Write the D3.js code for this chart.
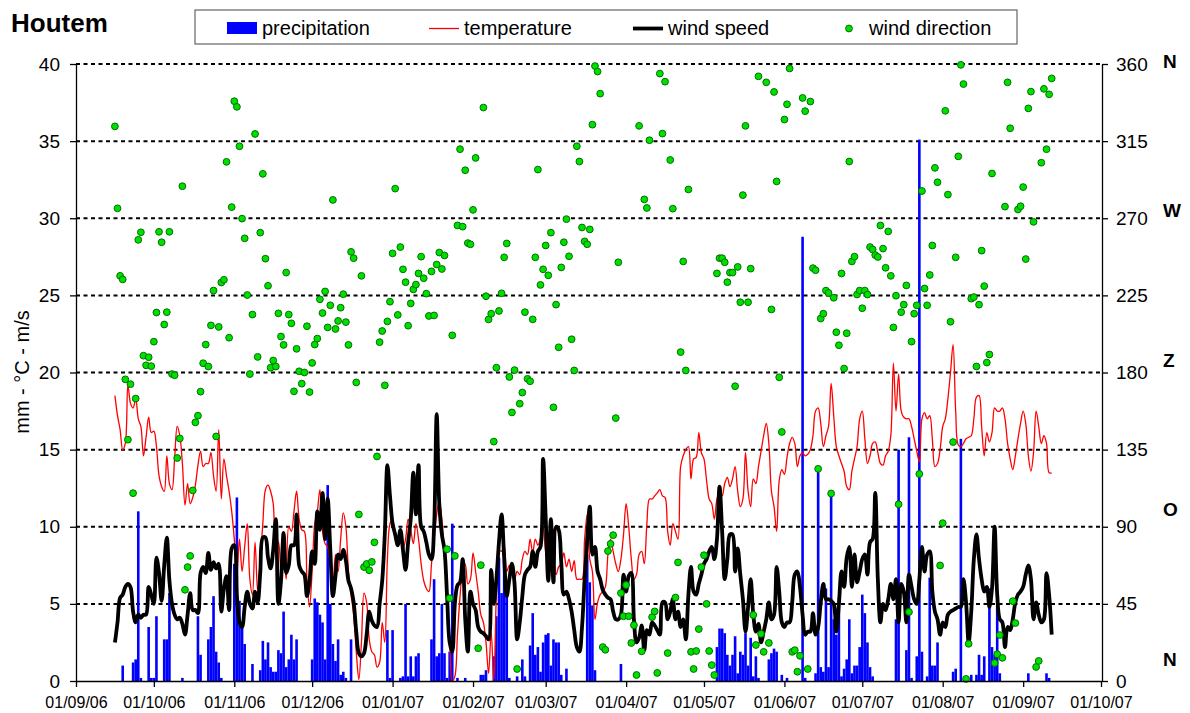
<!DOCTYPE html>
<html>
<head>
<meta charset="utf-8">
<script src="https://cdn.jsdelivr.net/npm/d3@7"></script>
<style>
  body { margin: 0; background: #fff; }
  svg text { font-family: "Liberation Sans", Arial, sans-serif; }
</style>
</head>
<body>
<div class="chart"></div>
<script>
// daily values, first day 16/09/06
var firstDay = "16/09/06";

// mm per day
var precipitation = [
  0,0,0,1.0,0,0,0,1.2,1.4,11.0,
  0.2,0,0,3.5,0.2,0.2,4.2,0,0,2.7,
  2.7,5.7,0,0,0,0,0.2,0,0,0,
  0,0,4.2,1.7,0,0,2.7,3.5,5.5,1.9,
  1.2,0.2,0,0,0,0,7.6,11.9,5.2,3.6,
  2.4,0,0,1.1,0,0,0.7,2.6,1.4,2.5,
  0.9,0.6,0.6,2.0,1.8,4.5,0.9,1.4,3.0,1.4,
  2.7,0,0,0,0,0,1.4,5.35,5.1,4.3,
  3.8,1.4,12.7,5.0,2.4,1.3,2.7,0.4,0.6,0.2,
  0,2.7,0,0,0,0,0,0,0,0,
  0,0,0,0,0,3.3,0.2,3.3,0,0,
  0.2,0.3,5.0,0.3,1.6,0.3,1.6,1.8,0,0,
  0,0,2.7,6.6,1.6,1.8,5.0,1.8,0.2,1.9,
  10.2,0,0.2,0,0,0.2,0,0,0,0,
  0,0.4,0.4,0.7,0,0,1.6,4.2,8.0,5.7,
  7.8,6.2,0.2,0,0,0.3,0,1.4,0.3,0,
  2.3,4.4,1.7,2.2,0.6,2.5,3.0,3.1,1.0,2.7,
  2.5,2.5,0.4,0,0.8,0,0,0,0,0,
  0,0,8.2,6.4,4.9,0.7,0,0,0,0,
  0,0,0,0,0,1.1,0,0,0,0,
  0,0,0,0,0,0,0,0,0,0,
  0,0,0,0,0,0,0,0,0,0,
  0,0,0,0,0,0,0,0,0,0,
  0,0,2.2,3.4,3.4,3.1,1.7,1.0,1.7,2.9,
  0.5,1.9,1.7,3.1,1.0,2.8,0.3,1.6,0.2,0,
  0,0,1.4,1.8,2.1,1.9,0,0.4,0,0.2,
  0,0,0,0,0,28.8,0.2,0,0,0,
  0.5,13.6,0.9,0.6,6.0,0.9,12.0,4.0,3.0,5.4,
  0.3,0.8,1.4,4.0,0.5,1.0,1.0,2.2,5.6,4.4,
  2.5,0.9,0.3,0,0,0,0,0,0,0,
  0,4.0,15.0,0,0,2.0,15.8,0.2,0,1.6,
  35.1,1.9,0,0.3,6.7,1.0,1.0,2.5,0,0,
  0,0,0,0.6,0.8,0,15.7,0,0,0,
  0.4,0,0.4,1.7,0.4,1.6,0,6.0,2.2,1.7,
  4.9,0.5,0,0,0,0,0,0,0,0,
  0,0,0.5,0,0,0,0,0,0,0.5,
  0.2,0
];

// °C
var temperature = [
  18.5,17.2,16.3,15.0,15.4,19.2,18.0,17.7,18.3,17.0,
  16.5,14.6,15.8,17.1,16.1,16.2,15.2,13.3,12.6,12.3,
  14.6,12.8,12.4,14.4,16.5,15.9,14.1,11.4,12.8,11.5,
  11.9,12.7,14.0,14.9,13.9,14.1,14.1,14.8,13.3,12.3,
  16.3,11.8,14.4,13.3,12.3,11.0,9.2,6.9,9.2,7.1,
  8.7,10.2,6.6,5.6,9.0,5.8,7.9,10.2,12.4,12.7,
  12.3,11.5,9.2,9.0,7.1,8.4,6.6,10.0,9.7,11.0,
  12.3,10.5,9.8,9.7,6.6,4.8,7.1,10.2,11.0,12.4,
  9.7,8.9,8.7,7.6,6.3,8.2,7.1,9.2,10.9,10.0,
  7.1,5.6,4.3,1.9,0.1,2.5,5.7,5.1,2.7,1.9,
  1.7,0.9,1.2,3.8,2.5,7.9,10.2,10.5,9.2,8.8,
  9.7,8.5,9.2,10.5,9.8,8.9,10.2,9.2,7.6,6.5,
  6.0,5.8,7.6,9.2,10.8,11.7,10.5,8.0,5.5,2.5,
  0.0,0.3,3.0,5.5,7.2,7.6,6.3,6.6,8.3,7.1,
  5.8,4.3,3.8,2.5,0.5,3.2,0.0,5.6,8.5,8.4,
  8.8,7.1,7.5,7.0,6.6,7.1,6.9,7.9,8.4,8.2,
  9.2,8.3,9.2,8.8,9.3,10.0,8.4,7.9,8.2,7.9,
  6.9,7.4,7.6,8.3,7.4,7.9,7.1,7.8,6.6,6.6,
  6.6,9.2,10.8,7.9,7.1,4.0,5.1,5.6,5.8,6.1,
  8.2,9.2,8.4,7.6,7.1,7.9,9.5,11.5,10.0,7.9,
  6.6,6.9,8.2,8.4,7.6,10.2,11.8,11.8,12.0,12.2,
  12.4,12.0,11.9,9.7,8.8,10.2,9.7,9.2,13.9,14.6,
  15.0,15.2,13.1,14.4,14.5,16.1,14.8,14.4,13.0,11.8,
  11.5,10.5,11.8,12.3,12.0,12.8,13.2,12.6,13.1,13.9,
  12.3,11.3,11.8,14.8,12.3,11.3,13.1,12.8,13.9,14.9,
  15.9,16.7,15.4,12.3,11.3,9.7,13.0,13.7,13.4,14.5,
  15.4,15.8,15.4,13.9,14.6,14.8,14.6,14.7,15.0,15.9,
  17.5,17.7,16.7,15.2,15.9,16.5,19.3,17.2,15.2,14.6,
  14.1,13.6,12.6,12.4,13.6,14.4,15.2,17.0,17.5,15.7,
  14.1,14.6,15.4,15.5,14.8,14.1,14.0,14.6,14.9,15.9,
  20.6,17.5,19.9,17.5,17.1,17.0,17.0,16.5,15.7,14.9,
  14.2,17.0,17.4,17.0,17.2,15.7,13.9,14.1,15.0,16.5,
  17.0,18.3,20.0,21.8,17.5,15.3,15.2,15.4,15.7,15.8,
  15.9,17.0,18.4,18.5,16.5,14.6,16.1,15.5,16.1,17.7,
  17.5,17.5,17.7,17.0,15.4,14.4,13.7,14.6,15.7,16.7,
  17.5,16.7,14.6,13.6,14.8,17.5,16.5,15.4,15.9,15.4,
  13.5,13.5
];

// m/s
var windSpeed = [
  2.5,3.8,5.4,5.6,6.1,6.3,6.1,4.5,3.8,4.3,
  4.1,4.3,4.3,6.1,5.6,5.0,8.0,7.0,5.2,7.5,
  9.3,6.5,5.0,4.3,4.0,4.1,3.7,3.0,4.3,5.7,
  4.6,4.6,4.4,7.0,7.4,7.0,8.3,7.2,7.7,7.3,
  7.6,4.5,6.0,6.8,4.6,8.6,8.8,5.5,3.8,3.5,
  4.8,5.8,5.0,4.7,5.8,5.1,7.0,9.3,9.3,8.0,
  7.3,8.5,10.5,5.0,6.5,9.6,7.0,7.5,8.8,8.8,
  10.8,7.5,7.1,6.9,5.5,6.5,8.4,7.6,11.0,9.8,
  12.2,9.2,11.8,8.5,5.5,6.8,8.2,7.9,8.5,7.8,
  6.5,6.0,5.1,3.2,1.8,1.6,1.8,3.0,4.5,3.9,
  3.6,3.5,5.0,6.5,9.5,14.0,12.0,10.2,9.5,8.8,
  9.8,8.5,7.2,9.0,10.5,13.5,10.8,14.0,10.0,9.7,
  9.0,8.2,7.9,10.0,17.3,11.5,9.5,8.5,5.5,2.5,
  1.9,5.0,6.2,6.4,7.9,4.0,1.9,5.8,5.0,4.6,
  3.5,3.2,3.1,2.9,2.7,7.2,5.0,6.6,9.0,10.8,
  8.0,5.5,6.6,7.6,6.3,2.7,3.8,5.5,6.9,7.2,
  7.4,8.4,7.4,8.4,8.7,14.4,10.6,6.5,10.5,6.4,
  10.0,9.8,7.7,5.6,5.8,5.3,4.5,3.3,2.2,1.9,
  3.5,6.6,9.2,11.3,8.2,8.7,7.1,6.6,5.9,5.6,
  5.4,5.3,4.5,4.0,4.0,4.3,6.9,5.8,6.8,7.0,
  4.0,2.5,2.8,3.6,2.0,3.3,3.0,3.8,3.6,3.3,
  3.0,5.1,5.1,4.0,4.5,5.3,4.0,4.5,3.5,4.0,
  2.7,5.6,7.4,5.8,5.6,6.3,6.9,7.6,7.9,8.4,
  8.7,7.9,9.2,12.6,9.7,6.6,7.9,9.5,9.5,7.1,
  8.6,6.9,5.3,3.2,4.8,6.6,4.3,3.2,3.7,2.5,
  3.2,4.0,5.1,4.0,4.3,7.4,5.8,3.8,3.5,3.8,
  3.8,5.1,6.9,7.1,6.1,4.3,3.0,3.2,3.2,4.4,
  3.0,3.5,5.1,6.3,5.3,5.3,5.2,5.0,3.2,5.0,
  7.1,6.1,8.0,8.7,6.1,8.2,6.4,7.1,7.9,8.2,
  6.9,9.0,9.2,12.2,6.6,3.8,5.0,4.6,5.3,6.3,
  5.3,6.6,3.8,6.3,5.8,3.8,6.9,6.1,5.3,5.0,
  6.6,8.7,7.1,8.2,8.4,5.8,4.5,4.0,3.0,3.8,
  3.5,4.3,4.5,4.6,4.7,4.8,4.8,6.6,5.1,2.5,
  4.5,7.9,9.5,7.9,6.6,5.8,6.1,4.8,6.0,10.0,
  5.6,4.0,3.8,2.2,3.5,3.3,4.0,5.1,5.6,5.8,
  6.1,6.9,7.5,6.6,4.0,5.1,4.3,3.8,4.0,7.0,
  5.6,3.0
];

// degrees
var windDirection = [
  323.6,275.8,236.4,234.3,176,140.8,173.2,109.6,164.8,257.4,
  261.8,189.8,184.2,188.9,183.7,198,215,262.1,256,208,
  215.2,262.1,179.1,178.4,130.1,141.5,288.7,53.2,66.5,73,
  111.2,150.9,154.8,168.8,185.4,196.3,183.5,207.5,227.8,142.7,
  206.6,232.5,234.1,302.9,200.3,276.5,338.3,335,312,269.8,
  258.3,225.2,179.1,213.8,319.2,189.1,261.6,295.9,246.4,230.6,
  182.8,187,183.5,214.5,201,196.1,238.3,213.8,208.7,169,
  193.8,180.7,173.5,180,207,168.6,185.6,196.3,199.8,222.7,
  214.7,227.3,206.3,219.2,280.7,205.4,210.1,217.8,225.7,209.4,
  196.1,250.4,246.7,174.2,97.2,236.4,66.5,68.3,64.6,69.5,
  80.9,131,197.7,204.2,172.5,209.8,221.3,249.5,287.3,213.6,
  253.2,240.2,232.7,207.3,220.3,228.5,231.3,237.8,247.6,235,
  226,213,239,213.3,243,250,240.4,248.3,76.9,48.3,
  201.7,73,265.8,310.3,265.1,298,255.5,254.8,274.9,305.2,
  19.1,67.6,334.6,224.5,211,214.3,139.7,182.8,215.9,226.2,
  247.2,255.3,177.4,156.7,181.4,7,161.8,168.3,215.2,176.3,
  174.9,211,247.2,298.4,231.1,240.2,254.1,236.7,261.6,159.7,
  219.6,194.7,241.3,256,269.5,247.8,199.4,181.2,312,303.1,
  264.6,256.5,254.8,263.5,324.6,358.8,355.6,342.7,19.8,18.2,
  75.8,80,85.1,153.4,244.3,51.3,37.8,56,37.8,22.2,
  32.6,3.5,323.9,17.3,281,276,315.5,37.3,40.6,4.7,
  354.4,319.4,349.7,16.3,304,275.6,48.7,69.2,191.9,244.8,
  181.2,286.8,17,7,17.5,30.3,66.5,73.4,45,17.5,
  9.3,3.5,237.8,246.7,246.7,244.3,232.7,238.3,238.3,172,
  241.6,221,283.5,323.9,221,240.6,38.5,21,352.8,27.5,
  17,349.3,22.2,216.8,343.7,291.5,177.2,145.3,327.6,336.5,
  357.4,17,18,5.4,14.7,340.2,332.5,7,338.1,240.9,
  239.7,123.8,211.5,214.3,227.8,226.4,109.4,223.6,203.5,195.9,
  237.8,182.3,202.9,303.1,244.8,247.6,225.5,227.8,217.5,227.8,
  225.5,253.2,251.8,248.5,247.4,265.8,252.3,241.1,262.3,236.4,
  206.3,224.8,103.1,215.2,219.6,230.8,40.3,198,214.3,219.2,
  120.8,285.9,229,219.2,236.9,254.1,299.4,291,67.4,92.1,
  332.7,283.8,209.6,139.4,247.2,306.1,359.5,348.3,1.2,21.7,
  223.1,224,183.5,219.6,251.1,230.4,185.8,190.5,296.1,10.5,
  15.6,26.8,13.5,276.8,349.3,322.5,46.6,33.8,275.1,277,
  288.2,246.2,334.1,343.9,267.9,8.2,11.7,302.4,345.5,310.3,
  342.3,351.6
];

var monthTicks = ["01/09/06","01/10/06","01/11/06","01/12/06","01/01/07","01/02/07","01/03/07",
                  "01/04/07","01/05/07","01/06/07","01/07/07","01/08/07","01/09/07","01/10/07"];
var leftTicks = [0, 5, 10, 15, 20, 25, 30, 35, 40];
var rightTicks = [0, 45, 90, 135, 180, 225, 270, 315, 360];
var compassLabels = ["N", "O", "Z", "W", "N"];
var compassDegrees = [0, 90, 180, 270, 360];
var seriesNames = ["precipitation", "temperature", "wind speed", "wind direction"];

var margin = {top: 64, right: 88, bottom: 32, left: 76};
var width = 1190 - margin.left - margin.right,
    height = 713 - margin.top - margin.bottom;

var svg = d3.select(".chart").append("svg")
    .attr("width", 1190)
    .attr("height", 713);

svg.append("rect").attr("width", 1190).attr("height", 713).attr("fill", "#fff");

var g = svg.append("g")
    .attr("transform", "translate(" + margin.left + "," + margin.top + ")");

var parseDate = d3.timeParse("%d/%m/%y");
var day0 = parseDate(firstDay);
var dates = windSpeed.map((v, i) => d3.timeDay.offset(day0, i));
var tickDates = monthTicks.map(parseDate);

const xScale = d3.scaleTime()
    .domain([tickDates[0], tickDates[tickDates.length - 1]])
    .range([0, width - 1]);

const yScale = d3.scaleLinear().domain([0, 40]).range([height, 0]);
const dirScale = d3.scaleLinear().domain([0, 360]).range([height, 0]);
// compass letters sit a little above their degree lines
const compassScale = d3.scaleLinear().domain([0, 360]).range([height - 22, -3]);

// dashed gridlines
g.append("g").attr("class", "grid")
  .selectAll("line")
  .data(leftTicks.filter(d => d > 0))
  .join("line")
    .attr("x1", 0).attr("x2", width)
    .attr("y1", d => yScale(d)).attr("y2", d => yScale(d))
    .attr("stroke", "#000")
    .attr("stroke-width", 2)
    .attr("stroke-dasharray", "4,3.5");

// precipitation bars
var barData = dates.map((d, i) => ({date: d, value: precipitation[i]})).filter(d => d.value > 0);
g.append("g").attr("class", "bars")
  .selectAll("rect")
  .data(barData)
  .join("rect")
    .attr("x", d => xScale(d.date) - 1.3)
    .attr("width", 2.6)
    .attr("y", d => yScale(d.value))
    .attr("height", d => height - yScale(d.value))
    .attr("fill", "#0000ff");

var seriesLine = d3.line()
    .x((d, i) => xScale(dates[i]))
    .y(d => yScale(d))
    .curve(d3.curveCatmullRom);

g.append("path")
    .datum(temperature)
    .attr("fill", "none")
    .attr("stroke", "#ff0000")
    .attr("stroke-width", 1.3)
    .attr("d", seriesLine);

g.append("path")
    .datum(windSpeed)
    .attr("fill", "none")
    .attr("stroke", "#000")
    .attr("stroke-width", 3.8)
    .attr("stroke-linejoin", "round")
    .attr("d", seriesLine);

g.append("g").attr("class", "dots")
  .selectAll("circle")
  .data(windDirection)
  .join("circle")
    .attr("cx", (d, i) => xScale(dates[i]))
    .attr("cy", d => dirScale(d))
    .attr("r", 3.4)
    .attr("fill", "#00e000")
    .attr("stroke", "#007000")
    .attr("stroke-width", 1);

// axes
const xAxis = d3.axisBottom(xScale)
    .tickValues(tickDates)
    .tickFormat((d, i) => monthTicks[i])
    .tickSize(6).tickPadding(10).tickSizeOuter(0);

const yAxis = d3.axisLeft(yScale)
    .tickValues(leftTicks)
    .tickSize(6).tickPadding(10).tickSizeOuter(0);

const dirAxis = d3.axisRight(dirScale)
    .tickValues(rightTicks)
    .tickSize(6).tickPadding(8).tickSizeOuter(0);

g.append("g")
    .attr("class", "axis x-axis")
    .attr("transform", `translate(0, ${height})`)
    .call(xAxis)
    .call(a => a.selectAll("text").attr("font-size", 16));

g.append("g")
    .attr("class", "axis y-axis")
    .call(yAxis)
    .call(a => a.selectAll("text").attr("font-size", 19));

g.append("g")
    .attr("class", "axis dir-axis")
    .attr("transform", `translate(${width}, 0)`)
    .call(dirAxis)
    .call(a => a.selectAll("text").attr("font-size", 19));

svg.selectAll(".axis").attr("font-family", null);
svg.selectAll(".axis path, .axis line").attr("stroke", "#000").attr("stroke-width", 1.3);
svg.selectAll(".axis text").attr("fill", "#000");

g.append("g").attr("class", "compass")
  .selectAll("text")
  .data(compassLabels)
  .join("text")
    .attr("x", width + 61)
    .attr("y", (d, i) => compassScale(compassDegrees[i]))
    .attr("dy", "0.36em")
    .attr("font-size", 19)
    .attr("font-weight", "bold")
    .text(d => d);

// y axis title
svg.append("text")
    .attr("transform", "translate(29, 372) rotate(-90)")
    .attr("text-anchor", "middle")
    .attr("font-size", 20)
    .text("mm - °C - m/s");

// title
svg.append("text")
    .attr("x", 11).attr("y", 32)
    .attr("font-size", 26)
    .attr("font-weight", "bold")
    .text("Houtem");

// legend
var legend = svg.append("g").attr("class", "legend");
legend.append("rect")
    .attr("x", 195).attr("y", 10)
    .attr("width", 822).attr("height", 34)
    .attr("fill", "#fff")
    .attr("stroke", "#707070")
    .attr("stroke-width", 1.3);

var legendX = [227, 429, 633, 834];
legend.append("rect")
    .attr("x", legendX[0]).attr("y", 22).attr("width", 30).attr("height", 12)
    .attr("fill", "#0000ff");
legend.append("line")
    .attr("x1", legendX[1]).attr("x2", legendX[1] + 30).attr("y1", 28.5).attr("y2", 28.5)
    .attr("stroke", "#ff0000").attr("stroke-width", 1.3);
legend.append("line")
    .attr("x1", legendX[2]).attr("x2", legendX[2] + 30).attr("y1", 28.5).attr("y2", 28.5)
    .attr("stroke", "#000").attr("stroke-width", 3.8);
legend.append("circle")
    .attr("cx", legendX[3] + 15).attr("cy", 28.5).attr("r", 3.4)
    .attr("fill", "#00e000").attr("stroke", "#007000").attr("stroke-width", 1);

legend.selectAll(".label")
  .data(seriesNames)
  .join("text")
    .attr("class", "label")
    .attr("x", (d, i) => legendX[i] + 35)
    .attr("y", 35)
    .attr("font-size", 20)
    .text(d => d);
</script>
</body>
</html>
